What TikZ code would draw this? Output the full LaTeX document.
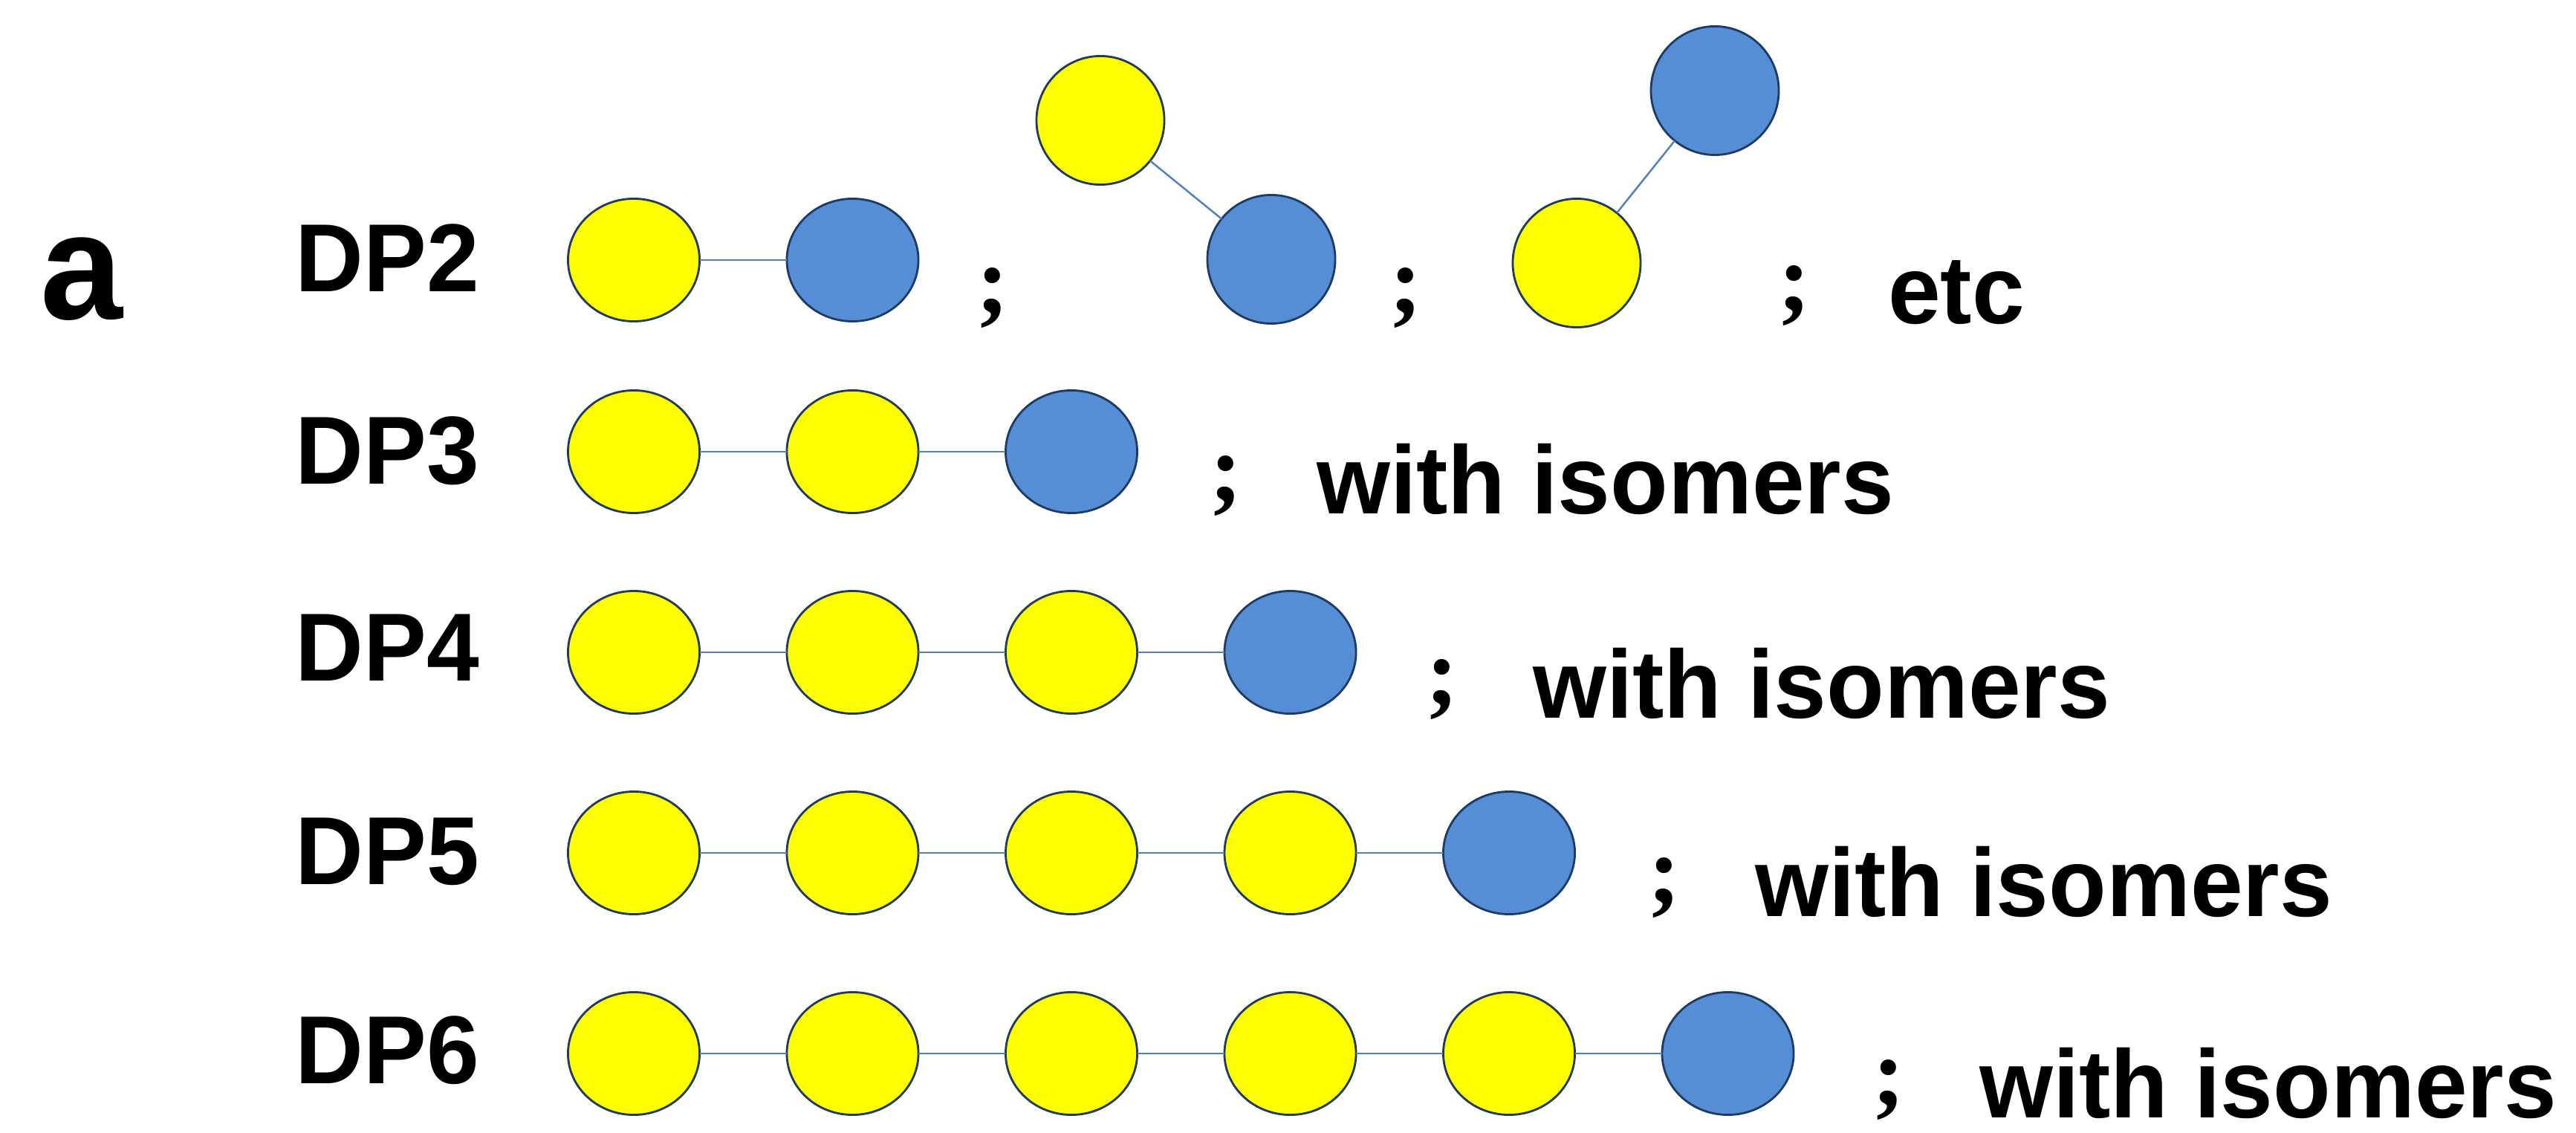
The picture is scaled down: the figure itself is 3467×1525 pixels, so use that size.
\documentclass[tikz,border=0pt]{standalone}
\usepackage{fontspec}
\setmainfont{Liberation Sans}[FakeStretch=0.977]
\newfontfamily\punctfont{Liberation Serif}
\usetikzlibrary{shapes.geometric}
\definecolor{glcyellow}{HTML}{FFFF00}
\definecolor{frublue}{HTML}{558ED5}
\definecolor{rimnavy}{HTML}{1F3B63}
\definecolor{bondblue}{HTML}{4F81BD}
% raised bold semicolon used as a separator
\newcommand\sepmark{\raisebox{0.17cm}{\punctfont\bfseries ;}}

\begin{document}
\begin{tikzpicture}[x=0.01cm,y=-0.01cm,
  unit/.style={ellipse, draw=rimnavy, line width=0.8pt, inner sep=0pt, outer sep=0pt,
               minimum width=1.77cm, minimum height=1.65cm},
  glc/.style={unit, fill=glcyellow},
  fru/.style={unit, fill=frublue},
  free/.style={minimum width=1.72cm, minimum height=1.73cm},
  bond/.style={draw=bondblue, line width=0.7pt},
  lbl/.style={inner sep=0pt, anchor=base west, font=\fontsize{37}{44}\selectfont\bfseries},
  panel/.style={inner sep=0pt, anchor=base west, font=\fontsize{58}{68}\selectfont\bfseries}]

\fill[white] (0,0) rectangle (3467,1525);
\useasboundingbox (0,0) rectangle (3467,1525);

% linear chains: yellow units ending in one blue unit
\foreach \n/\y in {2/350,3/608,4/878,5/1148,6/1418}{
  \foreach \i in {1,...,\n}{
    \pgfmathsetmacro\xx{853+294.5*(\i-1)}
    \ifnum\i=\n \def\fillc{frublue}\else\def\fillc{glcyellow}\fi
    \node[unit, fill=\fillc] (r\n u\i) at (\xx,\y) {};
  }
  \foreach \i in {2,...,\n}{
    \pgfmathtruncatemacro\p{\i-1}
    \draw[bond] (r\n u\p) -- (r\n u\i);
  }
}

% branched DP2 variants
\node[glc, free] (m2a) at (1481,162) {};
\node[fru, free] (m2b) at (1711,349) {};
\draw[bond] (m2a) -- (m2b);
\node[glc, free] (m3a) at (2122,354) {};
\node[fru, free] (m3b) at (2308,122) {};
\draw[bond] (m3a) -- (m3b);

% panel letter and row labels
\node[panel] (panel) at (54,430) {a};
\node[lbl] (dp2) at (397,393) {DP2};
\node[lbl] (dp3) at (397,652) {DP3};
\node[lbl] (dp4) at (397,916) {DP4};
\node[lbl] (dp5) at (397,1190) {DP5};
\node[lbl] (dp6) at (397,1458) {DP6};

% separators and notes
\node[lbl] (s2a) at (1314,439) {\sepmark};
\node[lbl] (s2b) at (1870,439) {\sepmark};
\node[lbl] (s2c) at (2393,436) {\sepmark\hspace{1.04cm}etc};
\node[lbl] (iso3) at (1628,692) {\sepmark\hspace{1cm}with isomers};
\node[lbl] (iso4) at (1919,966) {\sepmark\hspace{1cm}with isomers};
\node[lbl] (iso5) at (2218,1233) {\sepmark\hspace{1cm}with isomers};
\node[lbl] (iso6) at (2520,1504) {\sepmark\hspace{1cm}with isomers};
\end{tikzpicture}
\end{document}
